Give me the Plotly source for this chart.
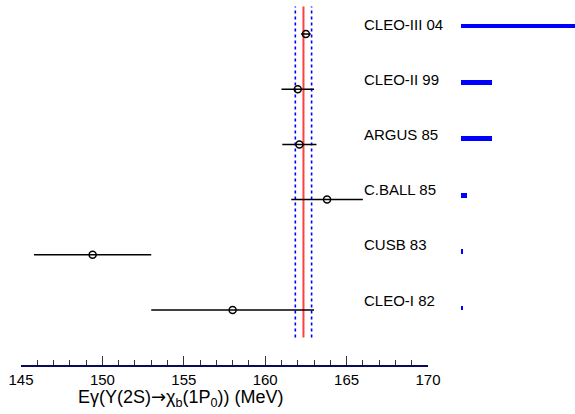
import plotly.graph_objects as go

W, H = 575, 414

# Data (bottom to top)
experiments = ["CLEO-I 82", "CUSB 83", "C.BALL 85", "ARGUS 85", "CLEO-II 99", "CLEO-III 04"]
energies = [158.0, 149.4, 163.8, 162.1, 162.0, 162.5]
errors = [5.0, 3.6, 2.2, 1.05, 1.0, 0.3]
weights = [0.04, 0.08, 0.2, 0.99, 1.0, 6.2]
mean_value = 162.35
mean_error = 0.5
xticks = [145, 150, 155, 160, 165, 170]

idx = list(range(len(experiments)))
FONT = "Liberation Sans, Arial, sans-serif"

fig = go.Figure()

# average band lines
fig.add_trace(go.Scatter(x=[mean_value - mean_error] * 2, y=[-0.5, 5.5], mode="lines",
                         line=dict(color="blue", width=1.6, dash="dot"), showlegend=False, hoverinfo="skip"))
fig.add_trace(go.Scatter(x=[mean_value + mean_error] * 2, y=[-0.5, 5.5], mode="lines",
                         line=dict(color="blue", width=1.6, dash="dot"), showlegend=False, hoverinfo="skip"))
fig.add_trace(go.Scatter(x=[mean_value] * 2, y=[-0.5, 5.5], mode="lines",
                         line=dict(color="#ff4040", width=2), showlegend=False, hoverinfo="skip"))

# measurements
fig.add_trace(go.Scatter(
    x=energies, y=idx, mode="markers",
    marker=dict(symbol="circle-open", size=7, color="black", line=dict(width=1.5, color="black")),
    error_x=dict(type="data", array=errors, color="black", thickness=1.5, width=0),
    showlegend=False,
))

# weight bars
fig.add_trace(go.Bar(
    x=weights, y=idx, orientation="h", width=0.085,
    marker=dict(color="#0000ff", line=dict(width=0)),
    xaxis="x2", yaxis="y2", showlegend=False,
))

# labels
for i, name in enumerate(experiments):
    fig.add_annotation(x=362 / W, xref="paper", y=i + 0.18, yref="y", text=name,
                       showarrow=False, xanchor="left", yanchor="middle",
                       font=dict(family=FONT, size=15, color="black"))

# axis title
fig.add_annotation(x=181 / W, xref="paper", y=1 - 398 / H, yref="paper",
                   text="Eγ(Y(2S)<span style='font-family:DejaVu Sans'>→</span>χ<sub>b</sub>(1P<sub>0</sub>)) (MeV)",
                   showarrow=False, xanchor="center", yanchor="middle",
                   font=dict(family=FONT, size=18, color="black"))

ydom = [49 / H, 1]
fig.update_layout(
    width=W, height=H, autosize=False,
    margin=dict(l=0, r=0, t=0, b=0, pad=0, autoexpand=False),
    paper_bgcolor="white", plot_bgcolor="white",
    bargap=0, showlegend=False,
    xaxis=dict(domain=[21 / W, 428 / W], range=[145, 170], anchor="y", automargin=False,
               showline=True, linecolor="#0a0a5a", linewidth=2, mirror=False,
               showgrid=False, zeroline=False,
               ticks="inside", ticklen=9, tickwidth=1, tickcolor="#333333",
               tickmode="array", tickvals=xticks, ticktext=[str(t) for t in xticks],
               tickfont=dict(family=FONT, size=15, color="black"),
               minor=dict(dtick=1, tick0=145, ticks="inside", ticklen=5, tickwidth=1, tickcolor="#333333", showgrid=False)),
    yaxis=dict(domain=ydom, range=[-0.9964, 5.616], visible=False, fixedrange=True, automargin=False),
    xaxis2=dict(domain=[461 / W, 1], range=[0, 3.68], anchor="y2", visible=False, automargin=False),
    yaxis2=dict(domain=ydom, range=[-1.0106, 5.461], anchor="x2", visible=False, automargin=False),
)

fig.write_html("out.html", config={"displayModeBar": False},
               post_script="document.body.style.margin='0';")
